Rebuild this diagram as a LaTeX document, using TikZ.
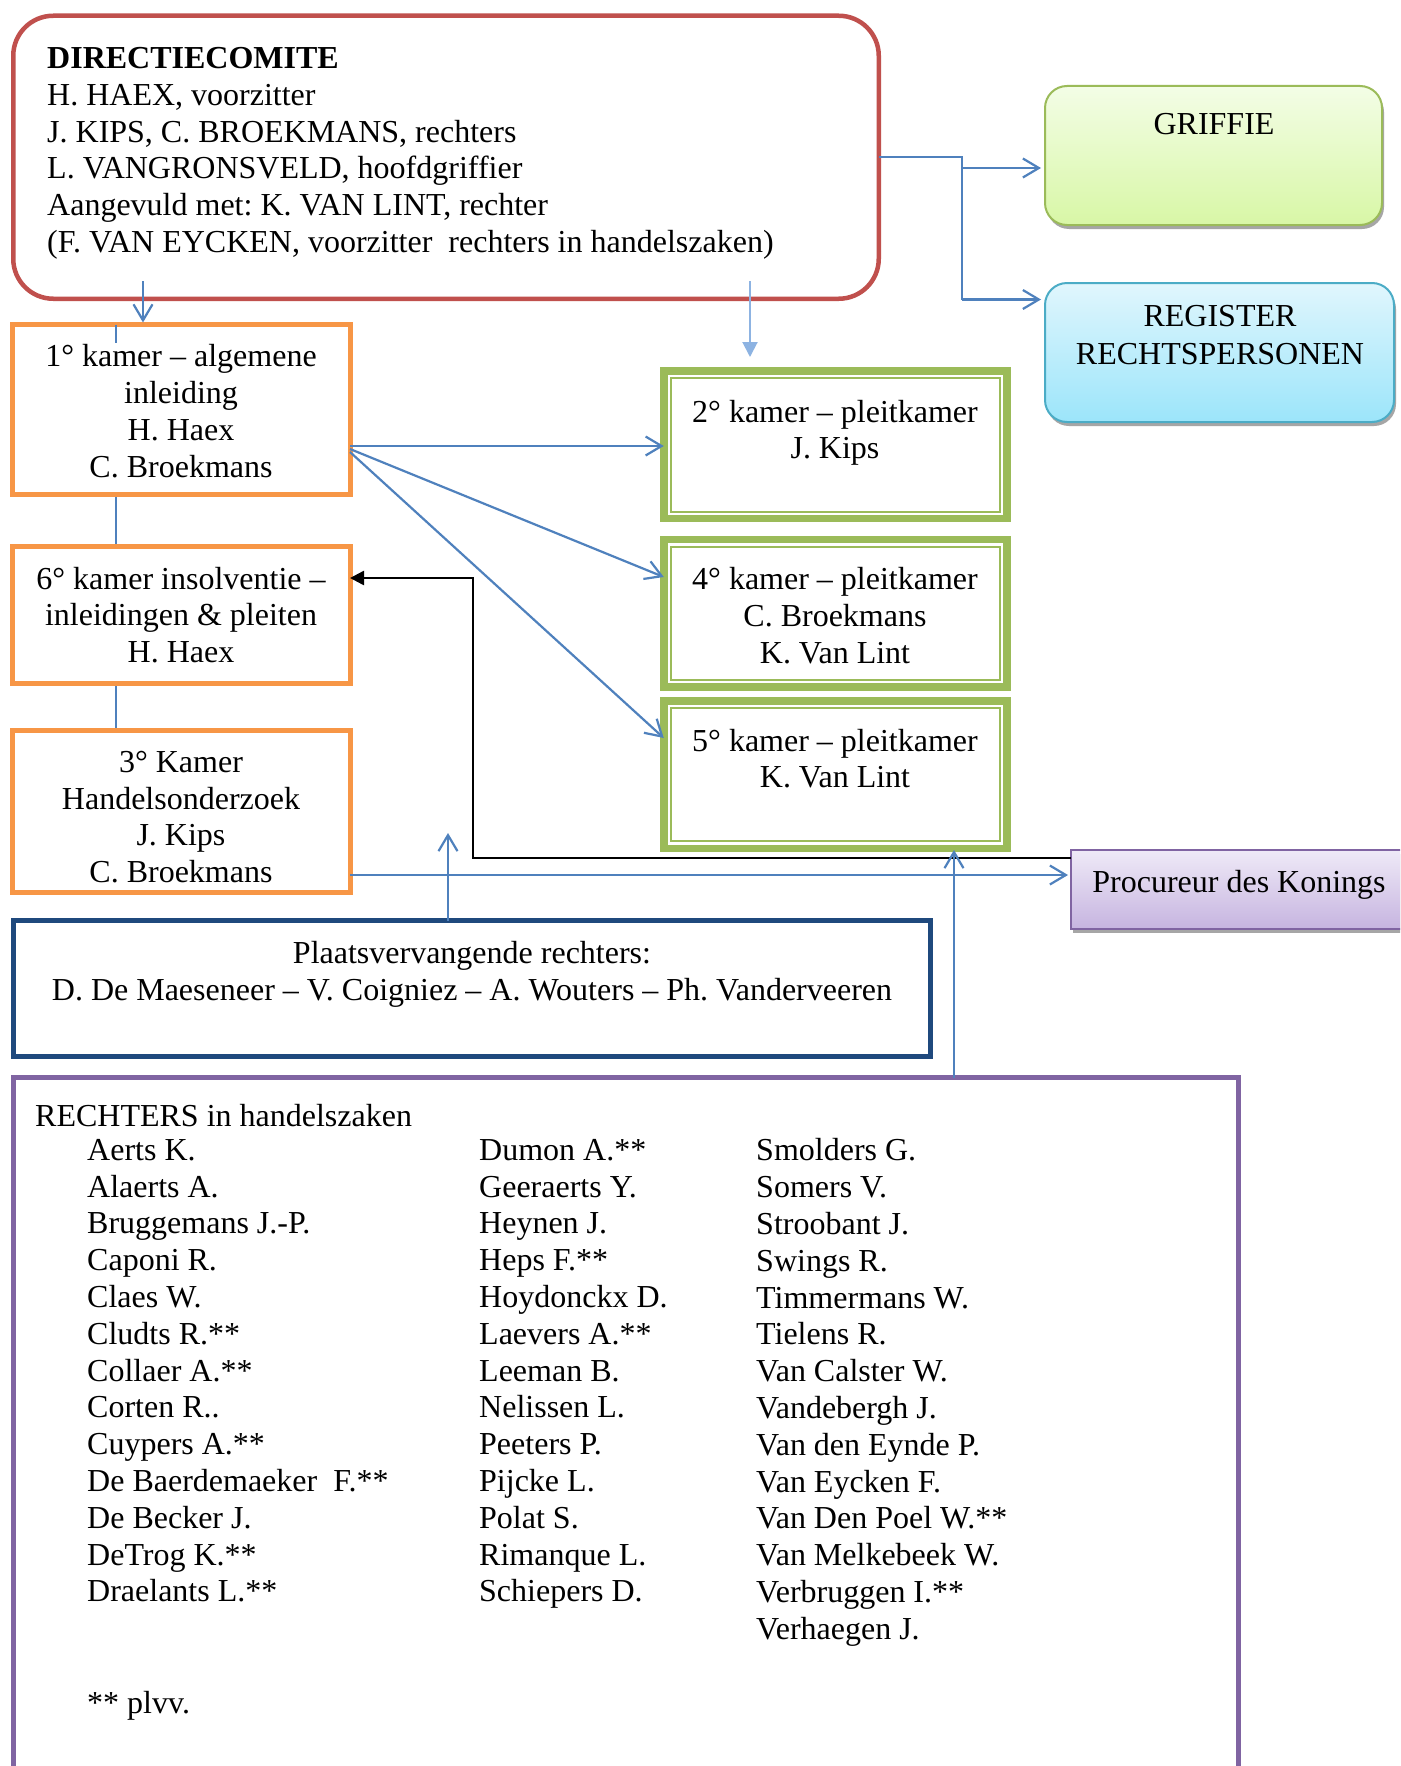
\documentclass[tikz,border=0pt]{standalone}
\usepackage{fontspec}
\setmainfont{Liberation Serif}
\usetikzlibrary{arrows.meta,calc}
\definecolor{cred}{HTML}{C0504D}
\definecolor{corange}{HTML}{F79646}
\definecolor{cgreen}{HTML}{9BBB59}
\definecolor{cnavy}{HTML}{1F497D}
\definecolor{cpurple}{HTML}{8064A2}
\definecolor{cblue}{HTML}{4F81BD}
\definecolor{clblue}{HTML}{8DB3E2}
\definecolor{cgrtop}{HTML}{F3FDE6}
\definecolor{cgrbot}{HTML}{D8F7A6}
\definecolor{crgtop}{HTML}{E0F6FD}
\definecolor{crgbot}{HTML}{9CE5FA}
\definecolor{crgborder}{HTML}{4BACC6}
\definecolor{cprtop}{HTML}{EFEAF7}
\definecolor{cprbot}{HTML}{C6B4E0}
\newcommand{\fsz}{\fontsize{32}{36.8}\selectfont\frenchspacing}
\newcommand{\fszw}{\fontsize{32}{38.3}\selectfont\frenchspacing}
\begin{document}
\begin{tikzpicture}[x=1pt,y=-1pt,
  box/.style={rectangle, inner sep=0pt, outer sep=0pt, fill=white},
  obox/.style={box, draw=corange, line width=5pt, minimum width=338pt},
  gbox/.style={box, draw=cgreen, line width=7.5pt, minimum width=343pt, minimum height=147.5pt},
  ginner/.style={draw=cgreen, line width=2pt},
  txt/.style={inner sep=0pt, yshift=-3.4pt, font=\fsz, execute at begin node=\strut, execute at end node=\strut, align=center},
  shd/.style={preaction={fill=black!35, transform canvas={xshift=2pt,yshift=-4pt}}},
  bl/.style={draw=cblue, line width=2.2pt},
  barb/.style={-{Straight Barb[length=16pt,width=19pt]}},
]
\path[use as bounding box, clip] (0,0) rectangle (1400,1766);
\fill[white] (0,0) rectangle (1400,1766);

% ---------- boxes ----------
\node[box, draw=cred, line width=4.5pt, rounded corners=40pt, minimum width=865.5pt, minimum height=283pt] (dir) at (446,157.25) {};
\node[box, shd, draw=cgreen, line width=2pt, rounded corners=22pt, top color=cgrtop, bottom color=cgrbot, minimum width=337pt, minimum height=139pt] (grif) at (1213.5,155.5) {};
\node[box, shd, draw=crgborder, line width=2pt, rounded corners=22pt, top color=crgtop, bottom color=crgbot, minimum width=349pt, minimum height=139pt] (reg) at (1219.5,352.5) {};
\node[box, shd, draw=cpurple, line width=2pt, top color=cprtop, bottom color=cprbot, minimum width=369pt, minimum height=79pt] (proc) at (1255.5,889.5) {};

\coordinate (v) at (116,0);
\draw[cblue, line width=1.5pt] (v |- 0,494) -- (v |- 0,547);
\draw[cblue, line width=1.5pt] (v |- 0,683) -- (v |- 0,731);

\node[obox, minimum height=170pt] (b1) at (181,409.5) {};
\node[obox, minimum height=137pt] (b6) at (181,615) {};
\node[obox, minimum height=162pt] (b3) at (181,811.5) {};

\node[gbox] (g2) at (835.25,444.75) {};
\node[gbox] (g4) at (835.25,613.4) {};
\node[gbox] (g5) at (835.25,774.5) {};
\foreach \g in {g2,g4,g5}{
  \draw[ginner] ([shift={(7,7)}]\g.north west) rectangle ([shift={(-7,-7)}]\g.south east);
}

\node[box, draw=cnavy, line width=5pt, minimum width=917pt, minimum height=136pt] (plaats) at (472,988.5) {};
\node[box, draw=cpurple, line width=5pt, minimum width=1225pt, minimum height=772.5pt] (recht) at (626,1463.75) {};

% ---------- texts ----------
\node[txt, anchor=west, align=left] (dirt) at (47,152) {{\bfseries DIRECTIECOMITE}\\H. HAEX, voorzitter\\J. KIPS, C. BROEKMANS, rechters\\L. VANGRONSVELD, hoofdgriffier\\Aangevuld met: K. VAN LINT, rechter\\(F. VAN EYCKEN, voorzitter~ rechters in handelszaken)};
\node[txt] (grift) at (1214,123.5) {GRIFFIE};
\node[txt, font=\fszw] (regt) at (1220,337) {REGISTER\\RECHTSPERSONEN};
\node[txt] (proct) at (1239,882) {Procureur des Konings};
\node[txt] (b1t) at (181,413) {1° kamer – algemene\\inleiding\\H. Haex\\C. Broekmans};
\node[txt] (b6t) at (181,617) {6° kamer insolventie –\\inleidingen \& pleiten\\H. Haex};
\node[txt] (b3t) at (181,819) {3° Kamer\\Handelsonderzoek\\J. Kips\\C. Broekmans};
\node[txt] (g2t) at (835,431.5) {2° kamer – pleitkamer\\J. Kips};
\node[txt] (g4t) at (835,617.5) {4° kamer – pleitkamer\\C. Broekmans\\K. Van Lint};
\node[txt] (g5t) at (835,760.5) {5° kamer – pleitkamer\\K. Van Lint};
\node[txt] (plt) at (472,973.4) {Plaatsvervangende rechters:\\D. De Maeseneer – V. Coigniez – A. Wouters – Ph. Vanderveeren};
\node[txt, anchor=west, align=left] (rhead) at (35,1116) {RECHTERS in handelszaken};
\node[txt, anchor=west, align=left] (col1) at (87,1372.6) {Aerts K.\\Alaerts A.\\Bruggemans J.-P.\\Caponi R.\\Claes W.\\Cludts R.**\\Collaer A.**\\Corten R..\\Cuypers A.**\\De Baerdemaeker~ F.**\\De Becker J.\\DeTrog K.**\\Draelants L.**};
\node[txt, anchor=west, align=left] (col2) at (479,1372.6) {Dumon A.**\\Geeraerts Y.\\Heynen J.\\Heps F.**\\Hoydonckx D.\\Laevers A.**\\Leeman B.\\Nelissen L.\\Peeters P.\\Pijcke L.\\Polat S.\\Rimanque L.\\Schiepers D.};
\node[txt, anchor=west, align=left] (col3) at (756,1391) {Smolders G.\\Somers V.\\Stroobant J.\\Swings R.\\Timmermans W.\\Tielens R.\\Van Calster W.\\Vandebergh J.\\Van den Eynde P.\\Van Eycken F.\\Van Den Poel W.**\\Van Melkebeek W.\\Verbruggen I.**\\Verhaegen J.};
\node[txt, anchor=west, align=left] (plvv) at (87,1703) {** plvv.};

% ---------- connectors ----------
\coordinate (j1) at (962,157.25);
\coordinate (j2) at (962,168);
\coordinate (j3) at (962,299.5);
\draw[bl] (dir.east) -- (j1) -- (j3);
\draw[bl, barb, shorten >=4pt] (j2) -- (grif.west |- j2);
\draw[bl, barb, shorten >=4pt] (j3) -- (reg.west |- j3);

\coordinate (a1) at (143,281);
\draw[bl, barb, shorten >=2pt] (a1) -- (a1 |- b1.north);
\draw[cblue, line width=1.5pt] (v |- b1.north) -- ++(0,18);
\coordinate (a2) at (750,281);
\coordinate (a2e) at (750,357);
\draw[draw=clblue, line width=2pt, -{Triangle[length=15pt,width=15pt]}] (a2) -- (a2e);

\coordinate (s1) at (0,446);
\coordinate (s2) at (0,449);
\coordinate (s3) at (0,452);
\coordinate (t4) at (0,577);
\coordinate (t5) at (0,738);
\draw[bl, barb] (b1.east |- s1) -- (g2.west |- s1);
\draw[bl, barb] (b1.east |- s2) -- (g4.west |- t4);
\draw[bl, barb] (b1.east |- s3) -- (g5.west |- t5);

\coordinate (k1) at (473,858);
\coordinate (k2) at (473,578);
\draw[black, line width=2.5pt, -{Triangle[length=14pt,width=14pt]}] (proc.west |- k1) -- (k1) -- (k2) -- (b6.east |- k2);

\coordinate (k3) at (0,875);
\draw[bl, barb, shorten >=3pt] (b3.east |- k3) -- (proc.west |- k3);

\coordinate (c448) at (448,833);
\draw[bl, barb] (c448 |- plaats.north) -- (c448);
\coordinate (c954) at (954,850);
\draw[bl, barb] (c954 |- recht.north) -- (c954);
\end{tikzpicture}
\end{document}
